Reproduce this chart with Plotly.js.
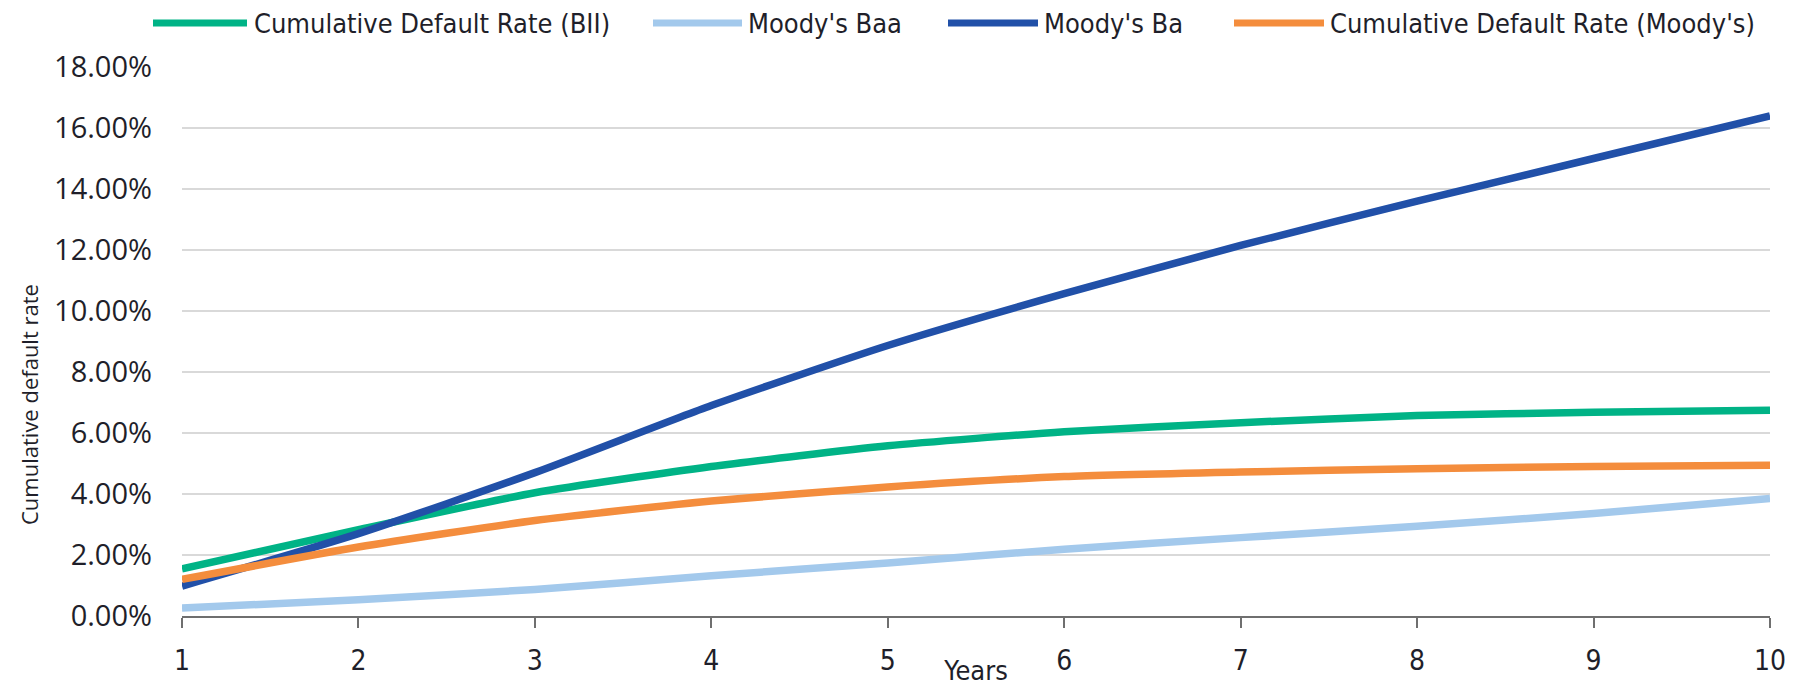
<!DOCTYPE html>
<html>
<head>
<meta charset="utf-8">
<script src="https://cdn.plot.ly/plotly-3.0.1.min.js"></script>
<style>html,body{margin:0;padding:0;background:#fff;}#chart{width:1805px;height:686px;}</style>
</head>
<body>
<div id="chart"></div>
<script>
var years = [1, 2, 3, 4, 5, 6, 7, 8, 9, 10];
var seriesNames = ["Cumulative Default Rate (BII)", "Moody's Baa", "Moody's Ba", "Cumulative Default Rate (Moody's)"];
var biiRate = [1.55, 2.83, 4.04, 4.90, 5.58, 6.04, 6.34, 6.57, 6.68, 6.75];
var moodysBaa = [0.26, 0.53, 0.87, 1.32, 1.74, 2.19, 2.57, 2.94, 3.36, 3.85];
var moodysBa = [0.98, 2.70, 4.70, 6.90, 8.87, 10.57, 12.15, 13.60, 15.00, 16.40];
var moodysRate = [1.20, 2.26, 3.13, 3.77, 4.23, 4.57, 4.72, 4.83, 4.90, 4.94];
var yTickVals = [0, 2, 4, 6, 8, 10, 12, 14, 16, 18];
var yTickText = ["0.00%", "2.00%", "4.00%", "6.00%", "8.00%", "10.00%", "12.00%", "14.00%", "16.00%", "18.00%"];

var colors = ["#00b386", "#a3c9ec", "#2150a8", "#f48d3d"];
var condensed = "'DejaVu Sans Condensed', 'Liberation Sans Narrow', sans-serif";
var textColor = "#1f1f2a";

var data = [biiRate, moodysBaa, moodysBa, moodysRate].map(function (ys, i) {
  return {
    x: years, y: ys, name: seriesNames[i], type: "scatter", mode: "lines",
    line: {color: colors[i], width: 7.5, shape: "spline", smoothing: 0.6},
    hoverinfo: "skip", showlegend: false
  };
});

var W = 1805, H = 686;
var plotLeft = 182, plotRight = 1770, plotTop = 67, plotBottom = 616;
function px2paperX(px) { return (px - plotLeft) / (plotRight - plotLeft); }
function px2paperY(py) { return (plotBottom - py) / (plotBottom - plotTop); }

// Custom legend with long swatches (layout decoration, page-pixel positions)
var legendItems = [
  {x0: 153, x1: 247, tx: 252},
  {x0: 653, x1: 742, tx: 746},
  {x0: 948, x1: 1038, tx: 1042},
  {x0: 1234, x1: 1324, tx: 1328}
];
var legendPy = 23;
var shapes = [], annotations = [];
legendItems.forEach(function (it, i) {
  shapes.push({
    type: "line", xref: "paper", yref: "paper",
    x0: px2paperX(it.x0), x1: px2paperX(it.x1),
    y0: px2paperY(legendPy), y1: px2paperY(legendPy),
    line: {color: colors[i], width: 7}, layer: "above"
  });
  annotations.push({
    xref: "paper", yref: "paper", x: px2paperX(it.tx), y: px2paperY(legendPy),
    xanchor: "left", yanchor: "middle", showarrow: false, text: seriesNames[i],
    font: {family: condensed, size: 27, color: textColor}
  });
});
// Y axis title placed as in the reference (lower than plot centre)
annotations.push({
  xref: "paper", yref: "paper", x: px2paperX(29), y: px2paperY(405),
  xanchor: "center", yanchor: "middle", showarrow: false, textangle: -90,
  text: "Cumulative default rate",
  font: {family: "'Open Sans', sans-serif", size: 22, color: textColor}
});

var layout = {
  width: W, height: H,
  margin: {l: plotLeft, r: W - plotRight, t: plotTop, b: H - plotBottom},
  paper_bgcolor: "#fff", plot_bgcolor: "#fff",
  font: {family: "'Open Sans', sans-serif", color: textColor, size: 20},
  showlegend: false,
  shapes: shapes,
  annotations: annotations,
  xaxis: {
    range: [1, 10], tickvals: years, ticktext: years.map(String),
    showgrid: false, zeroline: false,
    showline: true, linecolor: "#6f6f6f", linewidth: 2,
    ticks: "outside", ticklen: 10, tickwidth: 2, tickcolor: "#6f6f6f",
    ticklabelstandoff: 8,
    tickfont: {family: condensed, size: 28, color: textColor},
    title: {text: "Years", standoff: 13, font: {family: condensed, size: 27, color: textColor}}
  },
  yaxis: {
    range: [0, 18], tickvals: yTickVals, ticktext: yTickText,
    showgrid: true, gridcolor: "#d9d9d9", gridwidth: 2,
    zeroline: false, showline: false, ticks: "",
    ticklabelstandoff: 29,
    tickfont: {family: "'Open Sans', sans-serif", size: 29, color: textColor}
  }
};

Plotly.newPlot("chart", data, layout, {displayModeBar: false, staticPlot: true});
</script>
</body>
</html>
